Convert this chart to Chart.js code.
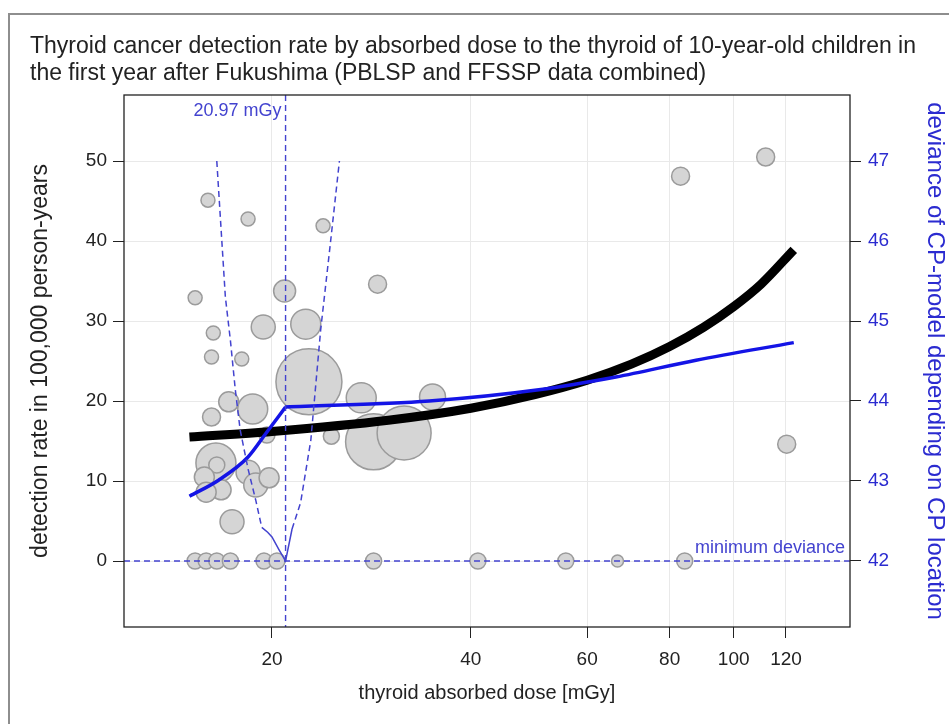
<!DOCTYPE html>
<html>
<head>
<meta charset="utf-8">
<script src="https://cdn.jsdelivr.net/npm/chart.js@4.4.1/dist/chart.umd.min.js"></script>
<style>
  html, body { margin: 0; padding: 0; background: #fff; overflow: hidden; }
  #wrap { position: relative; width: 949px; height: 724px; }
  #frame { position: absolute; left: 8px; top: 13px; width: 980px; height: 780px;
           border: 2px solid #8e8e8e; pointer-events: none; }
  canvas { display: block; }
</style>
</head>
<body>
<div id="wrap">
  <canvas id="chart" width="949" height="724"></canvas>
  <div id="frame"></div>
</div>
<script>
/* ---- data ---- */
// municipalities: dose [mGy], detection rate [/100,000 PY], bubble radius (person-years)
const bubbleDose   = [22.75, 28.5, 31.7, 16.45, 27.3, 35.0, 22.5, 18.7, 19.4, 20.9, 17.2, 18.4, 18.9, 17.4,
                      16.0, 18.4, 23.9, 28.9, 15.3, 16.3, 16.2, 18.0, 16.2, 19.65, 24.6, 16.5, 15.8, 16.75,
                      15.9, 19.8, 15.3, 15.9, 16.5, 17.3, 19.45, 20.35, 28.5, 41.0, 55.7, 66.7, 84.3,
                      120.3, 83.1, 111.8];
const bubbleRate   = [22.4, 14.9, 16.0, 12.25, 20.4, 20.5, 29.6, 19.0, 29.25, 33.75, 19.9, 11.1, 9.5, 4.9,
                      45.1, 42.75, 41.9, 34.6, 32.9, 28.5, 25.5, 25.25, 18.0, 15.75, 15.6, 12.0, 10.5, 8.9,
                      8.6, 10.4, 0, 0, 0, 0, 0, 0, 0, 0, 0, 0, 0,
                      14.6, 48.1, 50.5];
const bubbleRadius = [33, 28, 27, 20, 15, 13, 15, 15, 12, 11, 10, 12, 12, 12,
                      7, 7, 7, 9, 7, 7, 7, 7, 9, 8, 8, 8, 10, 10,
                      10, 10, 8, 8, 8, 8, 8, 8, 8, 8, 8, 6, 8,
                      9, 9, 9];

// exponential (no change point) model
const fitDose = [15.0, 20.0, 30.0, 40.0, 50.0, 60.0, 70.0, 80.0, 90.0, 100.0, 110.0, 123.3];
const fitRate = [15.5, 16.2, 17.6, 19.1, 20.8, 22.6, 24.6, 26.8, 29.2, 31.8, 34.6, 38.9];

// change point model, below and above the change point
const cpBelowDose = [15.0, 16.6, 18.4, 19.6, 20.97];
const cpBelowRate = [8.1, 10.1, 13.0, 16.0, 19.25];
const cpAboveDose = [20.97, 34.6, 50.7, 66.3, 87.7, 123.3];
const cpAboveRate = [19.25, 20.0, 21.4, 23.0, 25.1, 27.3];

// deviance of the CP model by change point location (right axis)
const devDose  = [16.5, 17.0, 17.3, 17.6, 17.9, 18.4, 18.9, 19.3, 19.7, 20.0, 20.5, 20.97,
                  21.45, 22.1, 22.9, 23.7, 24.5, 25.3];
const devValue = [47.0, 45.3, 44.76, 44.14, 43.64, 43.15, 42.76, 42.42, 42.36, 42.3, 42.14, 42.0,
                  42.40, 42.73, 43.51, 44.89, 45.95, 47.0];
const devCutoff = 42.4;

const cpDose = 20.97;
const minDeviance = 42;

const doseTicks = [20, 40, 60, 80, 100, 120];
const rateTicks = [0, 10, 20, 30, 40, 50];
const devTicks  = [42, 43, 44, 45, 46, 47];

/* ---- look ---- */
const FONT = '"Liberation Sans", Arial, sans-serif';
const INK = '#222222';
const BLUE = '#1414e6';
const DASH_BLUE = '#4343cf';
const LABEL_BLUE = '#2b2bd0';
const GRID = '#e9e9e9';

const pts = (xs, ys) => xs.map((x, i) => ({ x, y: ys[i] }));

const frame = {
  id: 'frame',
  afterDatasetsDraw(chart) {
    const { ctx, chartArea: a, scales } = chart;
    const x = scales.x.getPixelForValue(cpDose);
    const y = scales.yDev.getPixelForValue(minDeviance);
    ctx.save();
    ctx.strokeStyle = DASH_BLUE;
    ctx.lineWidth = 1.4;
    ctx.setLineDash([6, 4]);
    ctx.beginPath();
    ctx.moveTo(x, a.top); ctx.lineTo(x, a.bottom);
    ctx.moveTo(a.left, y); ctx.lineTo(a.right, y);
    ctx.stroke();
    ctx.setLineDash([]);
    ctx.fillStyle = DASH_BLUE;
    ctx.font = '18px ' + FONT;
    ctx.textAlign = 'right';
    ctx.textBaseline = 'middle';
    ctx.fillText('20.97 mGy', x - 4, a.top + 16);
    ctx.fillText('minimum deviance', a.right - 5, y - 13);
    ctx.restore();
  },
  afterDraw(chart) {
    const { ctx, chartArea: a } = chart;
    ctx.save();
    ctx.strokeStyle = INK;
    ctx.lineWidth = 1.3;
    ctx.strokeRect(a.left, a.top, a.right - a.left, a.bottom - a.top);
    ctx.fillStyle = INK;
    ctx.font = '23px ' + FONT;
    ctx.textAlign = 'left';
    ctx.textBaseline = 'middle';
    ctx.fillText('Thyroid cancer detection rate by absorbed dose to the thyroid of 10-year-old children in', 30, 47);
    ctx.fillText('the first year after Fukushima (PBLSP and FFSSP data combined)', 30, 74);
    ctx.restore();
  }
};

new Chart(document.getElementById('chart'), {
  type: 'bubble',
  data: {
    datasets: [
      {
        type: 'line', label: 'deviance', yAxisID: 'yDev', order: 0,
        data: pts(devDose, devValue),
        borderColor: DASH_BLUE, borderWidth: 1.5, pointRadius: 0, tension: 0,
        segment: {
          borderDash: (c) => Math.min(c.p0.parsed.y, c.p1.parsed.y) >= devCutoff ? [6, 4] : undefined,
        },
      },
      {
        type: 'line', label: 'CP model above', yAxisID: 'y', order: 1,
        data: pts(cpAboveDose, cpAboveRate),
        borderColor: BLUE, borderWidth: 3.5, pointRadius: 0, cubicInterpolationMode: 'monotone',
      },
      {
        type: 'line', label: 'CP model below', yAxisID: 'y', order: 1,
        data: pts(cpBelowDose, cpBelowRate),
        borderColor: BLUE, borderWidth: 3.5, pointRadius: 0, cubicInterpolationMode: 'monotone',
      },
      {
        type: 'line', label: 'exponential model', yAxisID: 'y', order: 2,
        data: pts(fitDose, fitRate),
        borderColor: '#000000', borderWidth: 9, pointRadius: 0, cubicInterpolationMode: 'monotone',
        borderCapStyle: 'butt',
      },
      {
        label: 'municipalities', yAxisID: 'y', order: 3,
        data: bubbleDose.map((d, i) => ({ x: d, y: bubbleRate[i], r: bubbleRadius[i] })),
        backgroundColor: '#d5d5d5', borderColor: '#9b9b9b', borderWidth: 1.5,
      },
    ],
  },
  options: {
    responsive: false,
    animation: false,
    events: [],
    layout: { padding: { top: 95, left: 0, right: 0, bottom: 0 } },
    plugins: { legend: { display: false }, tooltip: { enabled: false } },
    scales: {
      x: {
        type: 'logarithmic', position: 'bottom', min: 11.94, max: 150,
        afterBuildTicks: (s) => { s.ticks = doseTicks.map((v) => ({ value: v })); },
        afterFit: (s) => { s.height = 97; },
        grid: { color: GRID, tickColor: INK, tickLength: 11, lineWidth: 1 },
        border: { display: false },
        ticks: { color: INK, font: { family: FONT, size: 19 }, padding: 10, maxRotation: 0,
                 autoSkip: false, callback: (v) => String(v) },
        title: { display: true, text: 'thyroid absorbed dose [mGy]', color: INK,
                 font: { family: FONT, size: 20 }, padding: { top: 0, bottom: 19 } },
      },
      y: {
        type: 'linear', position: 'left', min: -8.25, max: 58.25,
        afterBuildTicks: (s) => { s.ticks = rateTicks.map((v) => ({ value: v })); },
        afterFit: (s) => { s.width = 124; },
        grid: { color: GRID, tickColor: INK, tickLength: 11 },
        border: { display: false },
        ticks: { color: INK, font: { family: FONT, size: 19 }, padding: 6 },
        title: { display: true, text: 'detection rate in 100,000 person-years', color: INK,
                 font: { family: FONT, size: 23 }, padding: { top: 27, bottom: 0 } },
      },
      yDev: {
        type: 'linear', position: 'right', min: 41.175, max: 47.825,
        afterBuildTicks: (s) => { s.ticks = devTicks.map((v) => ({ value: v })); },
        afterFit: (s) => { s.width = 99; },
        grid: { drawOnChartArea: false, tickColor: INK, tickLength: 11 },
        border: { display: false },
        ticks: { color: LABEL_BLUE, font: { family: FONT, size: 19 }, padding: 7 },
        title: { display: true, text: 'deviance of CP-model depending on CP location', color: LABEL_BLUE,
                 font: { family: FONT, size: 24 }, padding: { top: 0, bottom: 0 } },
      },
    },
  },
  plugins: [frame],
});
</script>
</body>
</html>
